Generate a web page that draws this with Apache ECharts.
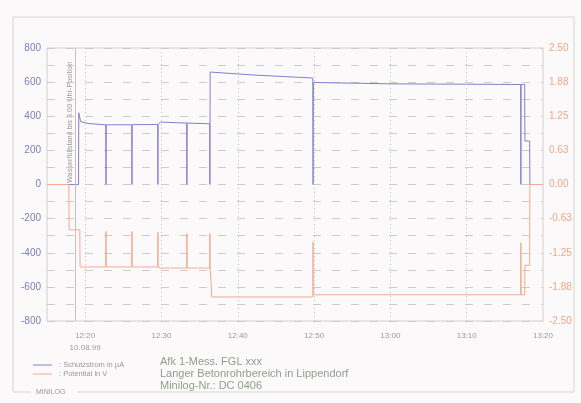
<!DOCTYPE html>
<html>
<head>
<meta charset="utf-8">
<script src="https://cdn.jsdelivr.net/npm/echarts@6/dist/echarts.min.js"></script>
<style>
html,body{margin:0;padding:0;background:#fbf9f9;}
#c{width:581px;height:403px;}
</style>
</head>
<body>
<div id="c"></div>
<script>
// Schutzstrom in µA (left axis)
const blueTimes = ['12:15:00','12:19:08','12:19:10','12:19:25','12:20:30','12:22:42','12:22:44','12:22:46','12:26:06','12:26:08','12:26:10','12:29:30','12:29:32','12:29:34','12:29:48','12:29:52','12:33:18','12:33:20','12:33:22','12:36:19','12:36:21','12:36:23','12:42:00','12:49:50','12:49:52','12:49:54','13:00:00','13:17:04','13:17:06','13:17:08','13:17:36','13:17:38','13:18:15','13:18:17','13:20:00'];
const blueValues = [0,0,420,368,357,350,0,350,350,0,351,352,0,352,352,366,360,0,360,356,0,659,642,624,0,598,590,586,0,586,586,255,255,0,0];
// Potential in V (right axis)
const orangeTimes = ['12:15:00','12:17:52','12:17:54','12:19:18','12:19:20','12:22:42','12:22:44','12:22:46','12:26:06','12:26:08','12:26:10','12:29:30','12:29:32','12:29:34','12:29:50','12:33:18','12:33:20','12:33:22','12:36:19','12:36:21','12:36:23','12:36:34','12:36:36','12:49:50','12:49:52','12:49:54','13:17:04','13:17:06','13:17:08','13:17:36','13:17:38','13:18:15','13:18:17','13:20:00'];
const orangeValues = [0,0,-0.83,-0.83,-1.51,-1.51,-0.86,-1.51,-1.51,-0.86,-1.51,-1.51,-0.88,-1.51,-1.53,-1.53,-0.9,-1.53,-1.53,-0.9,-1.53,-1.53,-2.06,-2.06,-1.05,-2.02,-2.02,-1.07,-2.02,-2.02,-1.48,-1.48,0,0];
// x ticks (minutes after 12:00) and annotation
const xTicks = [20,30,40,50,60,70];
const markerTime = '12:18:40';
const markerText = 'Wasserfüllstand bis 3.00 Uhr-Position';
const dateLabel = '10.08.99';
const infoLines = ['Afk 1-Mess. FGL xxx','Langer Betonrohrbereich in Lippendorf','Minilog-Nr.: DC 0406'];
const seriesNames = [': Schutzstrom in µA', ': Potential in V'];

function toMin(t){const p=t.split(':').map(Number);return p[0]*60+p[1]+p[2]/60-720;}
function fmt(v){const h=12+Math.floor(v/60);const m=Math.round(v%60);return h+':'+(m<10?'0':'')+m;}

const blueData = blueTimes.map((t,i)=>[toMin(t),blueValues[i]]);
const orangeData = orangeTimes.map((t,i)=>[toMin(t),orangeValues[i]]);

const BLUE='#8481cc', ORANGE='#f2ab90', GRID='#cbcbcb';
const chart = echarts.init(document.getElementById('c'));
chart.setOption({
  backgroundColor:'#fbf9f9',
  animation:false,
  textStyle:{fontFamily:'Liberation Sans, Arial, sans-serif'},
  grid:{left:47,right:38,top:48,bottom:82,show:true,borderColor:'#d2d2d2',borderWidth:1,backgroundColor:'transparent'},
  xAxis:{type:'value',min:15,max:80,interval:5,
    axisLine:{show:false},axisTick:{show:false},splitLine:{show:false},
    axisLabel:{color:'#9a9a9a',fontSize:8,margin:9,lineHeight:12,showMinLabel:true,showMaxLabel:true,
      formatter:v=>{if(Math.round(v)%10!==0)return '';return Math.round(v)===20?fmt(v)+'\n'+dateLabel:fmt(v);}}},
  yAxis:[
    {type:'value',min:-800,max:800,interval:100,position:'left',
      axisLine:{show:false},axisTick:{show:false},
      axisLabel:{color:'#7a80b4',fontSize:10,margin:6,formatter:v=>(v%200===0?String(v):'')},
      splitLine:{show:true,lineStyle:{color:GRID,type:[8,11],width:1}}},
    {type:'value',min:-2.5,max:2.5,interval:0.625,position:'right',
      axisLine:{show:false},axisTick:{show:false},splitLine:{show:false},
      axisLabel:{color:'#eca88a',fontSize:10,margin:6,formatter:v=>v.toFixed(2)}}
  ],
  series:[
    {name:seriesNames[0],type:'line',yAxisIndex:0,data:blueData,showSymbol:false,symbol:'none',
      lineStyle:{color:BLUE,width:1},itemStyle:{color:BLUE},
      markLine:{silent:true,symbol:'none',label:{show:false},animation:false,
        data:xTicks.map(x=>({xAxis:x,lineStyle:{color:'#c4c4c4',type:[1,3],width:1}}))
          .concat([{xAxis:toMin(markerTime),lineStyle:{color:'#c2c2c2',type:'solid',width:1}}])}},
    {name:seriesNames[1],type:'line',yAxisIndex:1,data:orangeData,showSymbol:false,symbol:'none',
      lineStyle:{color:ORANGE,width:1},itemStyle:{color:ORANGE}}
  ],
  graphic:[
    {type:'polyline',silent:true,shape:{points:[[31,392],[13,392],[13,17],[574,17],[574,392],[77,392]]},style:{stroke:'#d6d6d6',fill:null,lineWidth:1}},
    {type:'text',x:36,y:392,style:{text:'MINILOG',fill:'#9a9a9a',font:'7px Liberation Sans, Arial, sans-serif',verticalAlign:'middle',align:'left'}},
    {type:'text',x:73,y:183,rotation:Math.PI/2,style:{text:markerText,fill:'#9a9a9a',font:'7.3px Liberation Sans, Arial, sans-serif',align:'left',verticalAlign:'bottom'}},
    {type:'line',shape:{x1:33,y1:365,x2:52,y2:365},style:{stroke:BLUE,lineWidth:1}},
    {type:'line',shape:{x1:33,y1:374,x2:52,y2:374},style:{stroke:ORANGE,lineWidth:1}},
    {type:'text',x:59,y:365,style:{text:seriesNames[0],fill:'#999',font:'7.5px Liberation Sans, Arial, sans-serif',verticalAlign:'middle'}},
    {type:'text',x:59,y:374,style:{text:seriesNames[1],fill:'#999',font:'7.5px Liberation Sans, Arial, sans-serif',verticalAlign:'middle'}},
    {type:'text',x:160,y:362,style:{text:infoLines[0],fill:'#8e9e8e',font:'11px Liberation Sans, Arial, sans-serif',verticalAlign:'middle'}},
    {type:'text',x:160,y:374,style:{text:infoLines[1],fill:'#8e9e8e',font:'11px Liberation Sans, Arial, sans-serif',verticalAlign:'middle'}},
    {type:'text',x:160,y:386,style:{text:infoLines[2],fill:'#8e9e8e',font:'11px Liberation Sans, Arial, sans-serif',verticalAlign:'middle'}}
  ]
});
</script>
</body>
</html>
